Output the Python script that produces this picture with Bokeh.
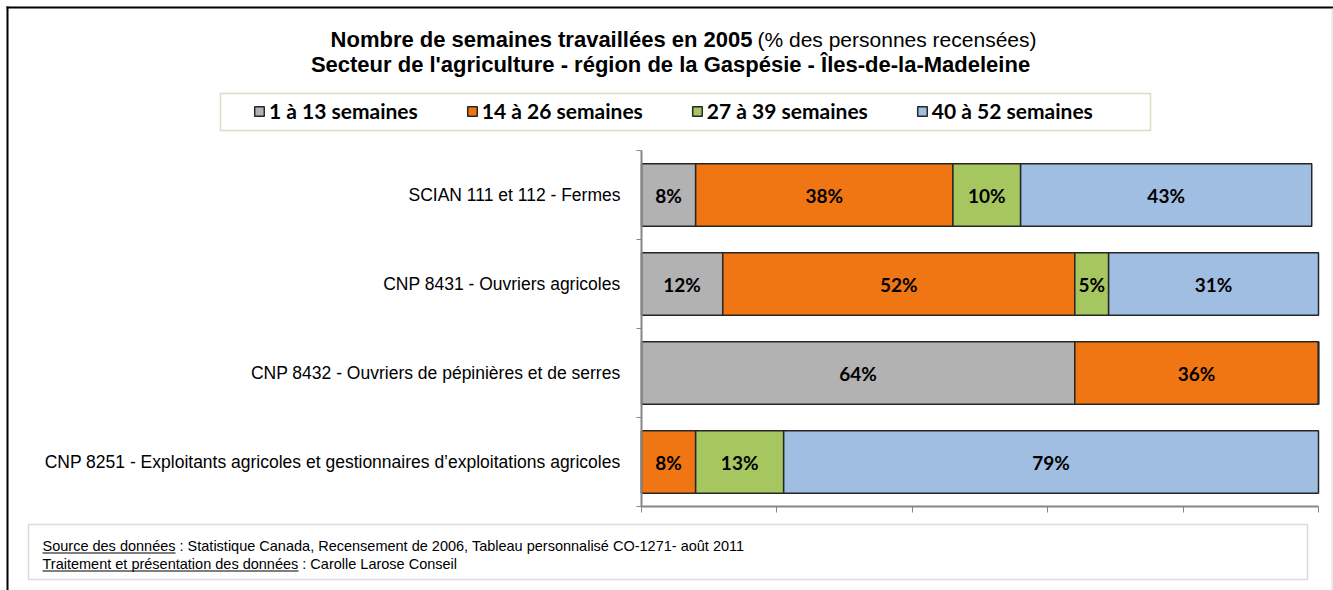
from bokeh.plotting import figure
from bokeh.models import (Range1d, LinearAxis, FixedTicker,
                          ColumnDataSource, LabelSet, Label, BoxAnnotation, Legend, LegendItem)
from bokeh.core.properties import value
from bokeh.embed import file_html
from bokeh.resources import INLINE

# ---------------- data ----------------
categories = [
    "SCIAN 111 et 112 - Fermes",
    "CNP 8431 - Ouvriers agricoles",
    "CNP 8432 - Ouvriers de pépinières et de serres",
    "CNP 8251 - Exploitants agricoles et gestionnaires d\u2019exploitations agricoles",
]
series = ["1 à 13 semaines", "14 à 26 semaines", "27 à 39 semaines", "40 à 52 semaines"]
s1 = [8, 12, 64, 0]
s2 = [38, 52, 36, 8]
s3 = [10, 5, 0, 13]
s4 = [43, 31, 0, 79]
x_ticks = [0, 20, 40, 60, 80, 100]

colors = ["#B2B2B2", "#F07614", "#A6C660", "#A0BEE1"]

title_bold = "Nombre de semaines travaillées en 2005"
title_norm = "(% des personnes recensées)"
subtitle = "Secteur de l'agriculture - région de la Gaspésie - Îles-de-la-Madeleine"
src_line1 = "Source des données : Statistique Canada,  Recensement de 2006, Tableau personnalisé CO-1271- août  2011"
src_line2 = "Traitement et présentation des données : Carolle Larose Conseil"

n = len(categories)
ypos = [n - i - 0.5 for i in range(n)]  # first category at top

# ---------------- layout (pixels) ----------------
W, H = 1333, 590
PX_L, PX_R = 641, 1318      # x = 0 and x = 100
PY_T, PY_B = 150, 506       # top / bottom of category bands
kx = (PX_R - PX_L) / 100.0
ky = (PY_B - PY_T) / n
x_range = Range1d(-PX_L / kx, (W - PX_L) / kx)
y_range = Range1d(-(H - PY_B) / ky, PY_B / ky)

def sy(y):  # canvas y (from top) -> screen units (from bottom)
    return H - y

p = figure(width=W, height=H, x_range=x_range, y_range=y_range,
           x_axis_location=None, y_axis_location=None,
           output_backend="svg", toolbar_location=None,
           min_border=0, min_border_left=0, min_border_right=0,
           min_border_top=0, min_border_bottom=0)
p.title = None
p.outline_line_color = None
p.background_fill_color = "white"
p.border_fill_color = "white"
p.xgrid.visible = False
p.ygrid.visible = False

AX = "#868686"
x_axis = LinearAxis(fixed_location=0, bounds=(0, 100),
                    ticker=FixedTicker(ticks=x_ticks),
                    major_label_text_font_size="0px",
                    axis_line_color=AX, axis_line_width=2,
                    major_tick_line_color=AX, major_tick_in=0, major_tick_out=6,
                    minor_tick_line_color=None)
p.add_layout(x_axis, "below")

tick_axis = LinearAxis(fixed_location=0, bounds=(0, n),
                       ticker=FixedTicker(ticks=list(range(n + 1))),
                       major_label_text_font_size="0px",
                       axis_line_color=AX, axis_line_width=2,
                       major_tick_line_color=AX, major_tick_in=0, major_tick_out=5,
                       minor_tick_line_color=None)
p.add_layout(tick_axis, "left")

cat_axis = LinearAxis(fixed_location=0, bounds=(0, n),
                      ticker=FixedTicker(ticks=ypos),
                      major_label_overrides={y: c for y, c in zip(ypos, categories)},
                      axis_line_color=None, major_tick_line_color=None,
                      minor_tick_line_color=None,
                      major_label_text_font="Liberation Sans",
                      major_label_text_font_size="17.5px",
                      major_label_text_color="#000000",
                      major_label_standoff=15)
p.add_layout(cat_axis, "left")

# ---------------- bars ----------------
keys = ["s1", "s2", "s3", "s4"]
src = ColumnDataSource(dict(y=ypos, cat=categories, s1=s1, s2=s2, s3=s3, s4=s4))
renderers = p.hbar_stack(keys, y="y", height=0.7, source=src,
                         fill_color=colors, line_color="#262626", line_width=1.5)

# value labels
lx, ly, lt = [], [], []
vals = [s1, s2, s3, s4]
for i in range(n):
    left = 0
    for s in vals:
        v = s[i]
        if v > 0:
            lx.append(left + v / 2)
            ly.append(ypos[i])
            lt.append(f"{v}%")
        left += v
lab_src = ColumnDataSource(dict(x=lx, y=ly, t=lt))
p.add_layout(LabelSet(x="x", y="y", text="t", source=lab_src,
                      text_align="center", text_baseline="middle",
                      text_font=value("Lato"), text_font_style="bold",
                      text_font_size="19px", text_color="#000000"))

# ---------------- legend ----------------
def sbox(left, right, top, bottom, **kw):
    return BoxAnnotation(left=left, right=right, top=sy(top), bottom=sy(bottom),
                         left_units="screen", right_units="screen",
                         top_units="screen", bottom_units="screen", **kw)

p.add_layout(sbox(220, 1150, 93, 130, fill_color="white", fill_alpha=1,
                  line_color="#77933C", line_width=1.5))

legend = Legend(items=[LegendItem(label=s, renderers=[r]) for s, r in zip(series, renderers)],
                orientation="horizontal", location=(253, sy(123)),
                border_line_color=None, background_fill_alpha=0,
                padding=0, margin=0, spacing=48,
                glyph_width=12, glyph_height=12, label_standoff=4,
                label_text_font="Lato", label_text_font_style="bold",
                label_text_font_size="21px", label_text_color="#000000")
p.add_layout(legend)

# ---------------- titles ----------------
p.add_layout(Label(x=752, y=sy(39), x_units="screen", y_units="screen", text=title_bold,
                   text_align="right", text_baseline="middle",
                   text_font="Liberation Sans", text_font_style="bold",
                   text_font_size="22px", text_color="#000000"))
p.add_layout(Label(x=757, y=sy(39), x_units="screen", y_units="screen", text=title_norm,
                   text_align="left", text_baseline="middle",
                   text_font="Liberation Sans", text_font_style="normal",
                   text_font_size="21px", text_color="#000000"))
p.add_layout(Label(x=670, y=sy(64), x_units="screen", y_units="screen", text=subtitle,
                   text_align="center", text_baseline="middle",
                   text_font="Liberation Sans", text_font_style="bold",
                   text_font_size="22px", text_color="#000000"))

# ---------------- footer ----------------
p.add_layout(sbox(28, 1307, 524, 579, fill_alpha=0, line_color="#8C8C8C", line_width=1.5))
p.add_layout(Label(x=42, y=sy(545), x_units="screen", y_units="screen", text=src_line1,
                   text_align="left", text_baseline="middle",
                   text_font="Liberation Sans", text_font_size="14.5px", text_color="#000000"))
p.add_layout(Label(x=42, y=sy(563), x_units="screen", y_units="screen", text=src_line2,
                   text_align="left", text_baseline="middle",
                   text_font="Liberation Sans", text_font_size="14.5px", text_color="#000000"))
p.add_layout(sbox(42, 175, 552, 553, fill_color="#000000", fill_alpha=1, line_color=None))
p.add_layout(sbox(42, 298, 570, 571, fill_color="#000000", fill_alpha=1, line_color=None))

# ---------------- outer frame ----------------
p.add_layout(sbox(6, 8, 6, 600, fill_color="#000000", fill_alpha=1, line_color=None))
p.add_layout(sbox(6, 1333, 6, 8, fill_color="#000000", fill_alpha=1, line_color=None))
p.add_layout(sbox(1331, 1332, 8, 600, fill_color="#D9D9D9", fill_alpha=1, line_color=None))

open("out.html", "w").write(file_html(p, INLINE))
